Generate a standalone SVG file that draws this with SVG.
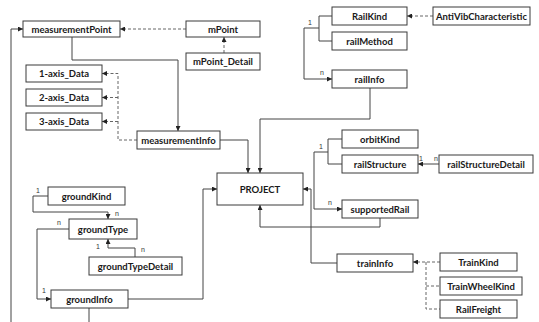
<svg xmlns="http://www.w3.org/2000/svg" width="539" height="322" viewBox="0 0 539 322">
<style>
.box rect{fill:#fff;stroke:#3a3a3a;stroke-width:1}
.box text{font-family:Lato,"Liberation Sans",sans-serif;font-weight:bold;font-size:9.5px;fill:#1a1a1a;text-anchor:middle}
.c path{fill:none;stroke:#444;stroke-width:1}
.c path.d{stroke:#666;stroke-dasharray:3,2}
.lbl{font-family:"Liberation Sans",sans-serif;font-size:7px;fill:#333}
</style>
<defs>
<marker id="a" viewBox="0 0 6 6" refX="6" refY="3" markerWidth="5" markerHeight="5" orient="auto" markerUnits="userSpaceOnUse"><path d="M0,0 L6,3 L0,6 Z" fill="#222"/></marker>
</defs>
<rect width="539" height="322" fill="#fff"/>
<g class="c">
<path class="d" d="M186,29 H120" marker-end="url(#a)"/>
<path class="d" d="M224,53 V37" marker-end="url(#a)"/>
<path d="M72,37 V60 H178 V131" marker-end="url(#a)"/>
<path class="d" d="M137,140 H118 V73.5 H102" marker-end="url(#a)"/>
<path class="d" d="M118,97.5 H102" marker-end="url(#a)"/>
<path class="d" d="M118,121.5 H102" marker-end="url(#a)"/>
<path d="M220,140 H248 V173" marker-end="url(#a)"/>
<path d="M370,88 V119 H260 V173" marker-end="url(#a)"/>
<path d="M11,322 V29 H23" marker-end="url(#a)"/>
<path d="M332,16 H319 V41 H332"/>
<path d="M319,28 H304 V79 H332" marker-end="url(#a)"/>
<path class="d" d="M433,16 H407" marker-end="url(#a)"/>
<path d="M342,139 H328 V164 H342"/>
<path d="M328,152 H314 V209 H342" marker-end="url(#a)"/>
<path d="M439,164 H418" marker-end="url(#a)"/>
<path d="M380,218 V227 H260 V205" marker-end="url(#a)"/>
<path d="M337,263 H311 V189 H303" marker-end="url(#a)"/>
<path class="d" d="M440,262 H413" marker-end="url(#a)"/>
<path class="d" d="M426,262 V309 H440"/>
<path class="d" d="M426,286 H440"/>
<path d="M48,196 H33 V212 H108 V219" marker-end="url(#a)"/>
<path d="M69,229 H37 V299 H51" marker-end="url(#a)"/>
<path d="M135,257 V248 H108 V239" marker-end="url(#a)"/>
<path d="M128,299 H203 V189 H217" marker-end="url(#a)"/>
<path d="M89,308 V322"/>
<text class="lbl" x="308" y="25">1</text>
<text class="lbl" x="320" y="75">n</text>
<text class="lbl" x="319" y="149">1</text>
<text class="lbl" x="328" y="205">n</text>
<text class="lbl" x="419" y="161">1</text>
<text class="lbl" x="434" y="161">n</text>
<text class="lbl" x="36" y="193">1</text>
<text class="lbl" x="115" y="216">n</text>
<text class="lbl" x="57" y="225">n</text>
<text class="lbl" x="42" y="293">1</text>
<text class="lbl" x="96" y="249">1</text>
<text class="lbl" x="141" y="252">n</text>
</g>
<g id="measurementPoint" class="box"><rect x="23" y="21" width="97" height="16"/><text x="71.5" y="32.5">measurementPoint</text></g>
<g id="mPoint" class="box"><rect x="186" y="21" width="74" height="16"/><text x="223" y="32.5">mPoint</text></g>
<g id="mPoint_Detail" class="box"><rect x="186" y="53" width="74" height="17"/><text x="223" y="65">mPoint_Detail</text></g>
<g id="axis1" class="box"><rect x="26" y="65" width="76" height="17"/><text x="64" y="77">1-axis_Data</text></g>
<g id="axis2" class="box"><rect x="26" y="89" width="76" height="17"/><text x="64" y="101">2-axis_Data</text></g>
<g id="axis3" class="box"><rect x="26" y="113" width="76" height="17"/><text x="64" y="125">3-axis_Data</text></g>
<g id="measurementInfo" class="box"><rect x="137" y="131" width="83" height="18"/><text x="178.5" y="143.5">measurementInfo</text></g>
<g id="RailKind" class="box"><rect x="332" y="7" width="75" height="18"/><text x="369.5" y="19.5">RailKind</text></g>
<g id="railMethod" class="box"><rect x="332" y="32" width="75" height="18"/><text x="369.5" y="44.5">railMethod</text></g>
<g id="AntiVibCharacteristic" class="box"><rect x="433" y="7" width="97" height="18"/><text x="481.5" y="19.5">AntiVibCharacteristic</text></g>
<g id="railInfo" class="box"><rect x="332" y="70" width="75" height="18"/><text x="369.5" y="82.5">railInfo</text></g>
<g id="PROJECT" class="box"><rect x="217" y="173" width="86" height="32"/><text x="260" y="192.5">PROJECT</text></g>
<g id="orbitKind" class="box"><rect x="342" y="130" width="76" height="18"/><text x="380" y="142.5">orbitKind</text></g>
<g id="railStructure" class="box"><rect x="342" y="155" width="76" height="18"/><text x="380" y="167.5">railStructure</text></g>
<g id="railStructureDetail" class="box"><rect x="439" y="155" width="94" height="18"/><text x="486" y="167.5">railStructureDetail</text></g>
<g id="supportedRail" class="box"><rect x="342" y="200" width="76" height="18"/><text x="380" y="212.5">supportedRail</text></g>
<g id="trainInfo" class="box"><rect x="337" y="254" width="76" height="18"/><text x="375" y="266.5">trainInfo</text></g>
<g id="TrainKind" class="box"><rect x="440" y="253" width="77" height="18"/><text x="478.5" y="265.5">TrainKind</text></g>
<g id="TrainWheelKind" class="box"><rect x="440" y="277" width="82" height="18"/><text x="481" y="289.5">TrainWheelKind</text></g>
<g id="RailFreight" class="box"><rect x="440" y="300" width="77" height="18"/><text x="478.5" y="312.5">RailFreight</text></g>
<g id="groundKind" class="box"><rect x="48" y="187" width="77" height="18"/><text x="86.5" y="199.5">groundKind</text></g>
<g id="groundType" class="box"><rect x="69" y="219" width="68" height="20"/><text x="103" y="232.5">groundType</text></g>
<g id="groundTypeDetail" class="box"><rect x="89" y="257" width="93" height="18"/><text x="135.5" y="269.5">groundTypeDetail</text></g>
<g id="groundInfo" class="box"><rect x="51" y="290" width="77" height="18"/><text x="89.5" y="302.5">groundInfo</text></g>
</svg>
